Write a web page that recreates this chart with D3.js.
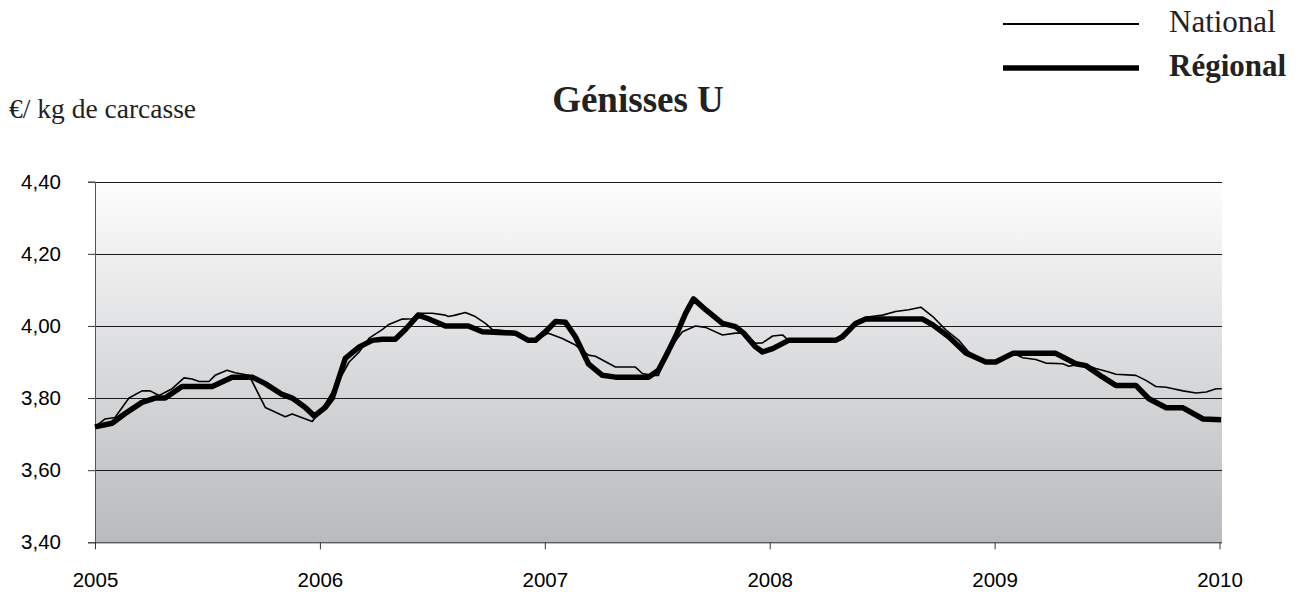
<!DOCTYPE html>
<html><head><meta charset="utf-8">
<script src="https://cdn.jsdelivr.net/npm/d3@7"></script>
<style>body{margin:0;background:#fff}svg{display:block}</style>
</head><body>
<svg id="c" width="1308" height="596"></svg>
<script>
const title = "Génisses U";
const unitLabel = "€/ kg de carcasse";
const seriesNames = ["National", "Régional"];
const yTicks = [3.40, 3.60, 3.80, 4.00, 4.20, 4.40];
const xTicks = [2005, 2006, 2007, 2008, 2009, 2010];

const nationalDates = [2005.000,2005.045,2005.089,2005.151,2005.209,2005.245,2005.285,2005.343,2005.396,2005.432,2005.463,2005.507,2005.534,2005.587,2005.623,2005.685,2005.757,2005.846,2005.877,2005.966,2006.024,2006.068,2006.130,2006.175,2006.219,2006.277,2006.304,2006.366,2006.411,2006.437,2006.500,2006.558,2006.571,2006.602,2006.647,2006.691,2006.736,2006.767,2006.869,2006.927,2006.972,2007.016,2007.078,2007.136,2007.194,2007.225,2007.314,2007.403,2007.434,2007.479,2007.505,2007.550,2007.612,2007.670,2007.715,2007.790,2007.848,2007.879,2007.937,2007.968,2008.013,2008.057,2008.084,2008.293,2008.382,2008.427,2008.502,2008.560,2008.618,2008.672,2008.725,2008.783,2008.841,2008.885,2008.961,2009.005,2009.081,2009.125,2009.183,2009.228,2009.303,2009.330,2009.393,2009.450,2009.508,2009.539,2009.628,2009.673,2009.717,2009.763,2009.794,2009.838,2009.896,2009.941,2009.985,2010.010];
const nationalValues = [3.720,3.742,3.746,3.800,3.820,3.820,3.807,3.826,3.856,3.853,3.846,3.846,3.863,3.877,3.870,3.863,3.774,3.748,3.756,3.735,3.784,3.830,3.900,3.928,3.966,3.990,4.003,4.019,4.020,4.035,4.035,4.030,4.026,4.030,4.037,4.026,4.007,3.990,3.984,3.963,3.965,3.980,3.965,3.947,3.919,3.916,3.886,3.886,3.868,3.863,3.863,3.933,3.984,4.000,3.996,3.975,3.980,3.980,3.952,3.953,3.972,3.975,3.960,3.960,4.012,4.024,4.030,4.040,4.045,4.052,4.026,3.989,3.960,3.928,3.900,3.900,3.924,3.912,3.907,3.897,3.895,3.888,3.895,3.882,3.872,3.866,3.863,3.849,3.832,3.830,3.826,3.820,3.814,3.817,3.826,3.826];

const regionalDates = [2005.000,2005.076,2005.134,2005.209,2005.267,2005.312,2005.387,2005.521,2005.610,2005.699,2005.757,2005.832,2005.877,2005.935,2005.975,2006.024,2006.055,2006.113,2006.175,2006.233,2006.277,2006.335,2006.380,2006.437,2006.482,2006.558,2006.660,2006.722,2006.869,2006.927,2006.958,2007.003,2007.047,2007.092,2007.136,2007.194,2007.256,2007.314,2007.461,2007.505,2007.536,2007.581,2007.626,2007.661,2007.715,2007.790,2007.848,2007.884,2007.937,2007.968,2008.013,2008.084,2008.293,2008.324,2008.382,2008.427,2008.680,2008.725,2008.796,2008.872,2008.961,2009.005,2009.081,2009.272,2009.361,2009.406,2009.481,2009.539,2009.628,2009.686,2009.763,2009.838,2009.927,2010.007];
const regionalValues = [3.720,3.730,3.757,3.788,3.800,3.800,3.832,3.832,3.858,3.858,3.840,3.810,3.800,3.774,3.750,3.774,3.800,3.910,3.942,3.960,3.963,3.963,3.990,4.030,4.020,4.000,4.000,3.984,3.980,3.960,3.960,3.984,4.012,4.010,3.970,3.895,3.863,3.858,3.858,3.877,3.914,3.970,4.035,4.075,4.045,4.007,3.998,3.980,3.942,3.928,3.937,3.960,3.960,3.970,4.007,4.019,4.019,4.003,3.970,3.925,3.900,3.900,3.924,3.924,3.895,3.890,3.858,3.835,3.835,3.798,3.773,3.773,3.742,3.740];

const svg = d3.select("#c");
const x = d3.scaleLinear().domain([2005, 2010]).range([95, 1219.5]);
const y = d3.scaleLinear().domain([3.4, 4.4]).range([542.3, 181.7]);
const fmt = v => d3.format(".2f")(v).replace(".", ",");
const sans = "'Liberation Sans', Arial, sans-serif";
const serif = "'Liberation Serif', 'Times New Roman', serif";

const defs = svg.append("defs");
const grad = defs.append("linearGradient").attr("id","bg").attr("x1",0).attr("y1",0).attr("x2",0).attr("y2",1);
grad.append("stop").attr("offset","0%").attr("stop-color","#fdfdfd");
grad.append("stop").attr("offset","100%").attr("stop-color","#b8babd");

svg.append("rect").attr("x", x(2005)).attr("y", y(4.4)).attr("width", 1222 - x(2005)).attr("height", y(3.4) - y(4.4)).attr("fill","url(#bg)");

// gridlines
svg.append("g").selectAll("line").data(yTicks.filter(d => d > 3.41)).join("line")
  .attr("x1", x(2005)).attr("x2", 1222)
  .attr("y1", d => Math.round(y(d)) + 0.5).attr("y2", d => Math.round(y(d)) + 0.5)
  .attr("stroke", "#1a1a1a").attr("stroke-width", 1);

// y axis
const yAxis = svg.append("g").attr("transform", `translate(${x(2005)},0)`)
  .call(d3.axisLeft(y).tickValues(yTicks).tickFormat(fmt).tickSize(7).tickPadding(27));
yAxis.select(".domain").attr("stroke", "#555");
yAxis.selectAll(".tick line").attr("stroke", "#333");
yAxis.selectAll("text").attr("font-family", sans).attr("font-size", 20.5).attr("fill", "#000");

// x axis
const xAxis = svg.append("g").attr("transform", `translate(0,${y(3.4)})`)
  .call(d3.axisBottom(x).tickValues(xTicks).tickFormat(d3.format("d")).tickSize(7).tickPadding(23));
xAxis.select(".domain").attr("d", `M${x(2005)},0.5H1222`).attr("stroke", "#222");
xAxis.selectAll(".tick line").attr("stroke", "#333");
xAxis.selectAll("text").attr("font-family", sans).attr("font-size", 20.5).attr("fill", "#000");

const line = d3.line().x(d => x(d[0])).y(d => y(d[1]));
const nat = nationalDates.map((d, i) => [d, nationalValues[i]]);
const reg = regionalDates.map((d, i) => [d, regionalValues[i]]);

svg.append("path").datum(nat).attr("d", line).attr("fill","none").attr("stroke","#000").attr("stroke-width",1.6).attr("stroke-linejoin","round");
svg.append("path").datum(reg).attr("d", line).attr("fill","none").attr("stroke","#000").attr("stroke-width",5.5).attr("stroke-linejoin","round");

// title & unit
svg.append("text").attr("x", 638).attr("y", 112).attr("text-anchor","middle")
  .attr("font-family", serif).attr("font-weight","bold").attr("font-size", 37).attr("fill","#222").text(title);
svg.append("text").attr("x", 9).attr("y", 118)
  .attr("font-family", serif).attr("font-size", 27.5).attr("fill","#222").text(unitLabel);

// legend
const leg = svg.append("g");
leg.append("line").attr("x1",1003).attr("x2",1139).attr("y1",24).attr("y2",24).attr("stroke","#000").attr("stroke-width",2);
leg.append("line").attr("x1",1003).attr("x2",1139).attr("y1",68).attr("y2",68).attr("stroke","#000").attr("stroke-width",5.5);
leg.append("text").attr("x",1169).attr("y",32).attr("font-family",serif).attr("font-size",31).attr("fill","#222").text(seriesNames[0]);
leg.append("text").attr("x",1169).attr("y",76).attr("font-family",serif).attr("font-weight","bold").attr("font-size",31).attr("fill","#222").text(seriesNames[1]);
</script>
</body></html>
